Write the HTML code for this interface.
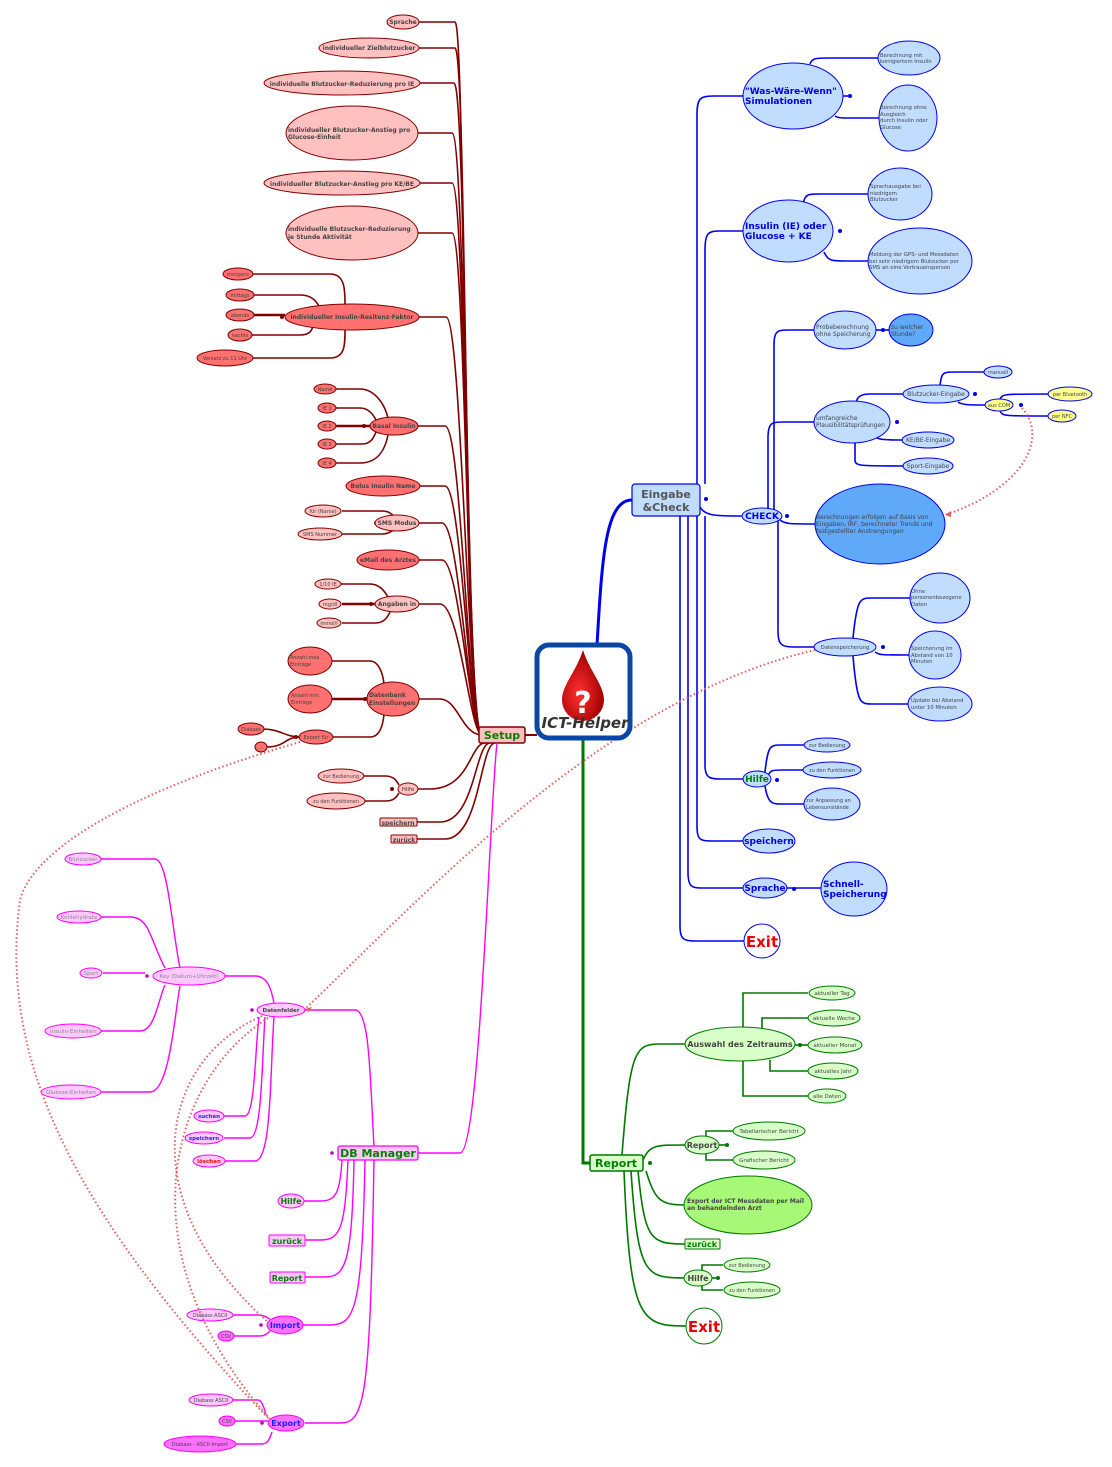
<!DOCTYPE html>
<html><head><meta charset="utf-8"><style>
html,body{margin:0;padding:0;background:#fff;}
svg{display:block;}
text{font-family:"DejaVu Sans","Liberation Sans",sans-serif;fill:#444;}
.b{font-weight:bold;}
</style></head><body>
<svg width="1112" height="1467" viewBox="0 0 1112 1467" xmlns="http://www.w3.org/2000/svg">
<!-- ================= SETUP (dark red) ================= -->
<g fill="none" stroke="#800000" stroke-width="1.6">
<path d="M419,22 H455 C466,22 462,735 482,735"/>
<path d="M419,48 H455 C467,48 464,735 482,735"/>
<path d="M420,83 H454 C467,83 465,735 482,735"/>
<path d="M418,133 H452 C466,133 466,735 482,735"/>
<path d="M420,183 H452 C466,183 466,735 482,735"/>
<path d="M418,233 H452 C466,233 467,735 482,735"/>
<path d="M419,317 H446 C462,317 468,735 482,735"/>
<path d="M418,426 H445 C462,426 468,735 482,735"/>
<path d="M420,486 H445 C462,486 469,735 482,735"/>
<path d="M419,523 H442 C460,523 469,735 482,735"/>
<path d="M419,560 H442 C460,560 470,735 482,735"/>
<path d="M419,604 H440 C460,604 470,735 482,735"/>
<path d="M419,699 H440 C458,699 462,735 482,735"/>
<path d="M418,789 H430 C470,789 470,743 485,743"/>
<path d="M417,822 H440 C475,822 475,743 490,743"/>
<path d="M417,839 H445 C480,839 480,743 495,743"/>
<!-- sub children -->
<path d="M252,274 H330 C345,274 345,290 345,304"/>
<path d="M254,295 H300 C315,295 318,305 320,308"/>
<path d="M254,315 H285" stroke-width="2.5"/>
<path d="M252,335 H300 C312,335 312,328 313,326"/>
<path d="M253,358 H330 C345,358 345,345 345,330"/>
<path d="M336,389 H360 C375,389 385,405 388,418"/>
<path d="M336,408 H360 C370,408 375,418 376,420"/>
<path d="M336,426 H370" stroke-width="2.5"/>
<path d="M336,444 H362 C372,444 374,436 376,432"/>
<path d="M336,463 H360 C378,463 385,450 388,435"/>
<path d="M342,511 H382 C390,511 392,515 394,516"/>
<path d="M342,534 H382 C390,534 392,530 394,530"/>
<path d="M341,584 H370 C380,584 385,592 388,597"/>
<path d="M342,604 H376" stroke-width="2.5"/>
<path d="M342,623 H375 C385,623 388,616 390,612"/>
<path d="M332,661 H370 C378,661 383,672 384,685"/>
<path d="M332,699 H368" stroke-width="2.5"/>
<path d="M333,737 H370 C380,737 383,725 384,714"/>
<path d="M263,729 C280,729 285,737 300,737"/>
<path d="M267,747 C285,747 285,737 300,737"/>
<path d="M364,776 H385 C395,776 397,782 399,785"/>
<path d="M365,801 H385 C395,801 397,796 399,793"/>
<path d="M525,735 H537" stroke-width="2"/>
</g>
<g fill="#800000">
<circle cx="282" cy="317" r="2"/><circle cx="364" cy="426" r="2"/><circle cx="376" cy="523" r="2"/>
<circle cx="371" cy="604" r="2"/><circle cx="365" cy="699" r="2"/><circle cx="296" cy="737" r="2"/><circle cx="392" cy="789" r="2"/>
</g>
<g stroke="#800000" stroke-width="1">
<ellipse cx="403" cy="22" rx="16" ry="7" fill="#ffc0c0"/>
<ellipse cx="369" cy="48" rx="50" ry="10" fill="#ffc0c0"/>
<ellipse cx="342" cy="83" rx="78" ry="12" fill="#ffc0c0"/>
<ellipse cx="352" cy="133" rx="66" ry="27" fill="#ffc0c0"/>
<ellipse cx="342" cy="183" rx="78" ry="12" fill="#ffc0c0"/>
<ellipse cx="352" cy="233" rx="66" ry="27" fill="#ffc0c0"/>
<ellipse cx="352" cy="317" rx="67" ry="13" fill="#ff7070"/>
<ellipse cx="238" cy="274" rx="15" ry="6" fill="#ff7070"/>
<ellipse cx="240" cy="295" rx="14" ry="6" fill="#ff7070"/>
<ellipse cx="240" cy="315" rx="14" ry="6" fill="#ff7070"/>
<ellipse cx="240" cy="335" rx="12" ry="6" fill="#ff7070"/>
<ellipse cx="225" cy="358" rx="28" ry="8" fill="#ff7070"/>
<ellipse cx="394" cy="426" rx="24" ry="9" fill="#ff7070"/>
<ellipse cx="325" cy="389" rx="11" ry="5" fill="#ff7070"/>
<ellipse cx="327" cy="408" rx="9" ry="5" fill="#ff7070"/>
<ellipse cx="327" cy="426" rx="9" ry="5" fill="#ff7070"/>
<ellipse cx="327" cy="444" rx="9" ry="5" fill="#ff7070"/>
<ellipse cx="327" cy="463" rx="9" ry="5" fill="#ff7070"/>
<ellipse cx="383" cy="486" rx="37" ry="10" fill="#ff7070"/>
<ellipse cx="397" cy="523" rx="22" ry="8" fill="#ffc0c0"/>
<ellipse cx="323" cy="511" rx="18" ry="6" fill="#ffc0c0"/>
<ellipse cx="320" cy="534" rx="22" ry="6" fill="#ffc0c0"/>
<ellipse cx="388" cy="560" rx="31" ry="10" fill="#ff7070"/>
<ellipse cx="397" cy="604" rx="22" ry="8" fill="#ffc0c0"/>
<ellipse cx="328" cy="584" rx="13" ry="5" fill="#ffc0c0"/>
<ellipse cx="330" cy="604" rx="11" ry="5" fill="#ffc0c0"/>
<ellipse cx="329" cy="623" rx="12" ry="5" fill="#ffc0c0"/>
<ellipse cx="393" cy="699" rx="26" ry="17" fill="#ff7070"/>
<ellipse cx="310" cy="661" rx="22" ry="14" fill="#ff7070"/>
<ellipse cx="310" cy="699" rx="22" ry="14" fill="#ff7070"/>
<ellipse cx="316" cy="737" rx="17" ry="7" fill="#ff7070"/>
<ellipse cx="251" cy="729" rx="13" ry="6" fill="#ff7070"/>
<ellipse cx="261" cy="747" rx="6" ry="5" fill="#ff7070"/>
<ellipse cx="408" cy="789" rx="10" ry="6" fill="#ffc0c0"/>
<ellipse cx="341" cy="776" rx="23" ry="7" fill="#ffc0c0"/>
<ellipse cx="336" cy="801" rx="29" ry="8" fill="#ffc0c0"/>
<rect x="380" y="818" width="37" height="8" rx="1" fill="#ffc0c0"/>
<rect x="391" y="835" width="26" height="8" rx="1" fill="#ffc0c0"/>
<rect x="479" y="727" width="46" height="16" rx="2" fill="#ffc0c0" stroke-width="1.5"/>
</g>
<g font-size="6">
<text x="403" y="24" text-anchor="middle" class="b">Sprache</text>
<text x="369" y="50" text-anchor="middle" class="b">individueller Zielblutzucker</text>
<text x="342" y="86" text-anchor="middle" class="b">individuelle Blutzucker-Reduzierung pro IE</text>
<text x="288" y="132" class="b">individueller Blutzucker-Anstieg pro</text>
<text x="288" y="139" class="b">Glucose-Einheit</text>
<text x="342" y="186" text-anchor="middle" class="b">individueller Blutzucker-Anstieg pro KE/BE</text>
<text x="288" y="231" class="b">individuelle Blutzucker-Reduzierung</text>
<text x="288" y="239" class="b">je Stunde Aktivität</text>
<text x="352" y="319" text-anchor="middle" class="b">individueller Insulin-Resitenz-Faktor</text>
<text x="238" y="276" text-anchor="middle" font-size="5">morgens</text>
<text x="240" y="297" text-anchor="middle" font-size="5">mittags</text>
<text x="240" y="317" text-anchor="middle" font-size="5">abends</text>
<text x="240" y="337" text-anchor="middle" font-size="5">nachts</text>
<text x="225" y="360" text-anchor="middle" font-size="5">Versatz zu 11 Uhr</text>
<text x="394" y="428" text-anchor="middle" class="b">Basal Insulin</text>
<text x="325" y="391" text-anchor="middle" font-size="5">Name</text>
<text x="327" y="410" text-anchor="middle" font-size="5">IE 1</text>
<text x="327" y="428" text-anchor="middle" font-size="5">IE 2</text>
<text x="327" y="446" text-anchor="middle" font-size="5">IE 3</text>
<text x="327" y="465" text-anchor="middle" font-size="5">IE 4</text>
<text x="383" y="488" text-anchor="middle" class="b">Bolus Insulin Name</text>
<text x="397" y="525" text-anchor="middle" class="b">SMS Modus</text>
<text x="323" y="513" text-anchor="middle" font-size="5">für (Name)</text>
<text x="320" y="536" text-anchor="middle" font-size="5">SMS Nummer</text>
<text x="388" y="562" text-anchor="middle" class="b">eMail des Arztes</text>
<text x="397" y="606" text-anchor="middle" class="b">Angaben in</text>
<text x="328" y="586" text-anchor="middle" font-size="5">1/10 IE</text>
<text x="330" y="606" text-anchor="middle" font-size="5">mg/dl</text>
<text x="329" y="625" text-anchor="middle" font-size="5">mmol/l</text>
<text x="369" y="697" class="b">Datenbank</text>
<text x="369" y="705" class="b">Einstellungen</text>
<text x="290" y="659" font-size="5">Anzahl max.</text>
<text x="290" y="666" font-size="5">Einträge</text>
<text x="291" y="697" font-size="5">Anzahl min.</text>
<text x="291" y="704" font-size="5">Einträge</text>
<text x="316" y="739" text-anchor="middle" font-size="5">Export für</text>
<text x="251" y="731" text-anchor="middle" font-size="5">Diabass</text>
<text x="261" y="749" text-anchor="middle" font-size="5">...</text>
<text x="408" y="791" text-anchor="middle" font-size="5.5">Hilfe</text>
<text x="341" y="778" text-anchor="middle" font-size="5">zur Bedienung</text>
<text x="336" y="803" text-anchor="middle" font-size="5">zu den Funktionen</text>
<text x="398" y="825" text-anchor="middle" class="b">speichern</text>
<text x="404" y="842" text-anchor="middle" class="b">zurück</text>
<text x="502" y="739" text-anchor="middle" font-size="11" class="b" style="fill:#008000">Setup</text>
</g>

<!-- ================= BLUE (Eingabe & Check) ================= -->
<g fill="none" stroke="#0000f0" stroke-width="1.6">
<path d="M597,645 C602,560 605,500 632,500" stroke-width="3"/>
<path d="M697,484 V115 C697,98 700,96 715,96 H743"/>
<path d="M705,484 V250 C705,233 708,231 720,231 H743"/>
<path d="M700,507 C705,516 715,516 743,516"/>
<path d="M705,516 V765 C705,779 710,779 725,779 H743"/>
<path d="M697,516 V825 C697,841 700,841 715,841 H743"/>
<path d="M688,516 V872 C688,888 692,888 705,888 H743"/>
<path d="M680,516 V925 C680,941 684,941 700,941 H744"/>
<!-- Was children -->
<path d="M810,64 C812,58 816,58 830,58 H878"/>
<path d="M835,116 C838,118 842,118 850,118 H879"/>
<path d="M803,204 C805,194 808,194 820,194 H868"/>
<path d="M824,252 C828,261 832,261 845,261 H868"/>
<path d="M843,96 H850"/>
<!-- CHECK children -->
<path d="M774,516 V345 C774,330 778,330 790,330 H814"/>
<path d="M768,516 V438 C768,422 772,422 785,422 H814"/>
<path d="M780,520 C785,524 790,524 815,524"/>
<path d="M778,516 V630 C778,647 782,647 800,647 H814"/>
<path d="M876,330 H889"/>
<path d="M855,412 C856,400 856,394 870,394 H903"/>
<path d="M870,431 C875,440 880,440 902,440"/>
<path d="M855,440 V460 C855,466 860,466 903,466"/>
<path d="M940,385 C942,372 942,372 958,372 H984"/>
<path d="M958,402 C962,405 970,405 985,405"/>
<path d="M1000,399 C1003,394 1003,394 1048,394"/>
<path d="M1000,411 C1003,416 1003,416 1048,416"/>
<!-- Datenspeicherung children -->
<path d="M853,638 C857,598 860,598 872,598 H910"/>
<path d="M875,652 C880,655 880,655 909,655"/>
<path d="M853,656 C857,704 860,704 872,704 H908"/>
<!-- Hilfe -->
<path d="M765,772 C768,745 770,745 782,745 H804"/>
<path d="M768,776 C770,770 773,770 782,770 H803"/>
<path d="M765,786 C768,804 772,804 782,804 H804"/>
<path d="M787,888 H821"/>
</g>
<g fill="#0000f0">
<circle cx="850" cy="96" r="2"/><circle cx="840" cy="231" r="2"/><circle cx="787" cy="516" r="2"/>
<circle cx="883" cy="330" r="2"/><circle cx="897" cy="422" r="2"/><circle cx="975" cy="394" r="2"/>
<circle cx="1021" cy="405" r="2"/><circle cx="883" cy="647" r="2"/><circle cx="777" cy="780" r="2"/>
<circle cx="794" cy="889" r="2"/><circle cx="706" cy="499" r="2"/>
</g>
<g stroke="#0000f0" stroke-width="1">
<ellipse cx="793" cy="96" rx="50" ry="33" fill="#c0dcff"/>
<ellipse cx="788" cy="231" rx="45" ry="31" fill="#c0dcff"/>
<ellipse cx="909" cy="58" rx="31" ry="17" fill="#c0dcff"/>
<ellipse cx="908" cy="118" rx="29" ry="33" fill="#c0dcff"/>
<ellipse cx="900" cy="194" rx="32" ry="26" fill="#c0dcff"/>
<ellipse cx="920" cy="261" rx="52" ry="33" fill="#c0dcff"/>
<ellipse cx="762" cy="516" rx="20" ry="8" fill="#c0dcff"/>
<ellipse cx="845" cy="330" rx="31" ry="19" fill="#c0dcff"/>
<ellipse cx="911" cy="330" rx="22" ry="16" fill="#60a8f8"/>
<ellipse cx="852" cy="422" rx="38" ry="21" fill="#c0dcff"/>
<ellipse cx="936" cy="394" rx="33" ry="9" fill="#c0dcff"/>
<ellipse cx="998" cy="372" rx="14" ry="6" fill="#c0dcff"/>
<ellipse cx="999" cy="405" rx="14" ry="6" fill="#ffff90"/>
<ellipse cx="1070" cy="394" rx="22" ry="7" fill="#ffff90"/>
<ellipse cx="1062" cy="416" rx="14" ry="6" fill="#ffff90"/>
<ellipse cx="928" cy="440" rx="26" ry="8" fill="#c0dcff"/>
<ellipse cx="928" cy="466" rx="25" ry="8" fill="#c0dcff"/>
<ellipse cx="880" cy="524" rx="65" ry="40" fill="#60a8f8"/>
<ellipse cx="845" cy="647" rx="31" ry="9" fill="#c0dcff"/>
<ellipse cx="940" cy="598" rx="30" ry="25" fill="#c0dcff"/>
<ellipse cx="935" cy="655" rx="26" ry="24" fill="#c0dcff"/>
<ellipse cx="940" cy="704" rx="32" ry="17" fill="#c0dcff"/>
<ellipse cx="757" cy="779" rx="14" ry="8" fill="#c0dcff"/>
<ellipse cx="827" cy="745" rx="23" ry="7" fill="#c0dcff"/>
<ellipse cx="832" cy="770" rx="29" ry="8" fill="#c0dcff"/>
<ellipse cx="832" cy="804" rx="28" ry="16" fill="#c0dcff"/>
<ellipse cx="769" cy="841" rx="26" ry="12" fill="#c0dcff"/>
<ellipse cx="765" cy="888" rx="22" ry="10" fill="#c0dcff"/>
<ellipse cx="854" cy="889" rx="33" ry="27" fill="#c0dcff"/>
<ellipse cx="762" cy="941" rx="18" ry="17" fill="#fff"/>
<rect x="632" y="484" width="68" height="32" rx="3" fill="#c0dcff" stroke-width="1.2"/>
</g>
<g font-size="5.3">
<text x="666" y="498" text-anchor="middle" font-size="11" class="b" style="fill:#555">Eingabe</text>
<text x="666" y="511" text-anchor="middle" font-size="11" class="b" style="fill:#555">&amp;Check</text>
<g class="b" font-size="9" style="fill:#0000e0">
<text x="745" y="94" style="fill:#0000e0">"Was-Wäre-Wenn"</text>
<text x="745" y="104" style="fill:#0000e0">Simulationen</text>
<text x="745" y="229" style="fill:#0000e0">Insulin (IE) oder</text>
<text x="745" y="239" style="fill:#0000e0">Glucose + KE</text>
<text x="762" y="519" text-anchor="middle" style="fill:#0000e0">CHECK</text>
<text x="769" y="844" text-anchor="middle" style="fill:#0000e0">speichern</text>
<text x="765" y="891" text-anchor="middle" style="fill:#0000e0">Sprache</text>
<text x="823" y="887" style="fill:#0000e0">Schnell-</text>
<text x="823" y="897" style="fill:#0000e0">Speicherung</text>
<text x="757" y="782" text-anchor="middle" style="fill:#008000">Hilfe</text>
<text x="762" y="947" text-anchor="middle" font-size="15" style="fill:#f00000">Exit</text>
</g>
<text x="880" y="57">Berechnung mit</text>
<text x="880" y="63">korrigiertem Insulin</text>
<text x="880" y="109">Berechnung ohne</text>
<text x="880" y="116">Ausgleich</text>
<text x="880" y="122">durch Insulin oder</text>
<text x="880" y="129">Glucose</text>
<text x="870" y="188"> Sprachausgabe bei</text>
<text x="870" y="195">niedrigem</text>
<text x="870" y="201">Blutzucker</text>
<text x="869" y="256">Meldung der GPS- und Messdaten</text>
<text x="869" y="263">bei sehr niedrigem Blutzucker per</text>
<text x="869" y="269">SMS an eine Vertrauensperson</text>
<text x="816" y="329" font-size="6">Probeberechnung</text>
<text x="816" y="336" font-size="6">ohne Speicherung</text>
<text x="891" y="329" font-size="6">zu welcher</text>
<text x="891" y="336" font-size="6">Stunde?</text>
<text x="816" y="420" font-size="6">umfangreiche</text>
<text x="816" y="427" font-size="6">Plausibilitätsprüfungen</text>
<text x="936" y="396" text-anchor="middle" font-size="6">Blutzucker-Eingabe</text>
<text x="998" y="374" text-anchor="middle" font-size="5">manuell</text>
<text x="999" y="407" text-anchor="middle" font-size="5">aus COM</text>
<text x="1070" y="396" text-anchor="middle" font-size="5">per Bluetooth</text>
<text x="1062" y="418" text-anchor="middle" font-size="5">per NFC</text>
<text x="928" y="442" text-anchor="middle" font-size="6">KE/BE-Eingabe</text>
<text x="928" y="468" text-anchor="middle" font-size="6">Sport-Eingabe</text>
<text x="816" y="519" font-size="6">Berechnungen erfolgen auf Basis von</text>
<text x="816" y="526" font-size="6">Eingaben, IRF, berechneter Trends und</text>
<text x="816" y="533" font-size="6">festgestellter Anstrengungen</text>
<text x="845" y="649" text-anchor="middle">Datenspeicherung</text>
<text x="911" y="593">Ohne</text>
<text x="911" y="599">personenbezogene</text>
<text x="911" y="606">Daten</text>
<text x="911" y="650">Speicherung im</text>
<text x="911" y="657">Abstand von 10</text>
<text x="911" y="663">Minuten</text>
<text x="911" y="702">Update bei Abstand</text>
<text x="911" y="709">unter 10 Minuten</text>
<text x="827" y="747" text-anchor="middle" font-size="5">zur Bedienung</text>
<text x="832" y="772" text-anchor="middle" font-size="5">zu den Funktionen</text>
<text x="806" y="802" font-size="5">zur Anpassung an</text>
<text x="806" y="809" font-size="5">Lebensumstände</text>
</g>

<!-- ================= GREEN (Report) ================= -->
<g fill="none" stroke="#007800" stroke-width="1.6">
<path d="M583,738 V1163 H590" stroke-width="3"/>
<path d="M622,1155 C630,1050 635,1044 660,1044 H686"/>
<path d="M743,1027 V993 H808"/>
<path d="M762,1028 V1018 H808"/>
<path d="M795,1045 H808"/>
<path d="M770,1060 V1071 H808"/>
<path d="M743,1061 V1096 H808"/>
<path d="M643,1160 C650,1145 655,1145 685,1145"/>
<path d="M706,1136 V1131 H733"/>
<path d="M706,1154 V1160 H733"/>
<path d="M646,1171 C655,1200 660,1205 685,1205"/>
<path d="M638,1171 C645,1240 650,1244 685,1244"/>
<path d="M631,1171 C638,1275 645,1278 684,1278"/>
<path d="M702,1272 V1265 H723"/>
<path d="M702,1285 V1290 H723"/>
<path d="M624,1171 C630,1320 640,1326 686,1326"/>
<path d="M719,1145 H726"/><path d="M712,1278 H718"/>
</g>
<g fill="#007800"><circle cx="650" cy="1163" r="2"/><circle cx="727" cy="1145" r="2"/><circle cx="718" cy="1278" r="2"/><circle cx="800" cy="1045" r="2"/></g>
<g stroke="#007800" stroke-width="1">
<ellipse cx="740" cy="1044" rx="55" ry="17" fill="#d8ffc8"/>
<ellipse cx="832" cy="993" rx="23" ry="7" fill="#d8ffc8"/>
<ellipse cx="834" cy="1018" rx="26" ry="8" fill="#d8ffc8"/>
<ellipse cx="835" cy="1045" rx="27" ry="8" fill="#d8ffc8"/>
<ellipse cx="833" cy="1071" rx="25" ry="8" fill="#d8ffc8"/>
<ellipse cx="827" cy="1096" rx="19" ry="7" fill="#d8ffc8"/>
<ellipse cx="702" cy="1145" rx="17" ry="9" fill="#d8ffc8"/>
<ellipse cx="769" cy="1131" rx="36" ry="9" fill="#d8ffc8"/>
<ellipse cx="764" cy="1160" rx="31" ry="9" fill="#d8ffc8"/>
<ellipse cx="748" cy="1205" rx="64" ry="29" fill="#a8f878"/>
<rect x="685" y="1239" width="35" height="10" rx="1" fill="#d8ffc8"/>
<ellipse cx="698" cy="1278" rx="14" ry="8" fill="#d8ffc8"/>
<ellipse cx="747" cy="1265" rx="23" ry="7" fill="#d8ffc8"/>
<ellipse cx="752" cy="1290" rx="28" ry="8" fill="#d8ffc8"/>
<ellipse cx="704" cy="1326" rx="18" ry="18" fill="#fff"/>
<rect x="590" y="1155" width="53" height="16" rx="2" fill="#d8ffc8" stroke-width="1.5"/>
</g>
<g font-size="5.5">
<text x="616" y="1167" text-anchor="middle" font-size="11" class="b" style="fill:#008000">Report</text>
<text x="740" y="1047" text-anchor="middle" font-size="8" class="b">Auswahl des Zeitraums</text>
<text x="832" y="995" text-anchor="middle">aktueller Tag</text>
<text x="834" y="1020" text-anchor="middle">aktuelle Woche</text>
<text x="835" y="1047" text-anchor="middle">aktueller Monat</text>
<text x="833" y="1073" text-anchor="middle">aktuelles Jahr</text>
<text x="827" y="1098" text-anchor="middle">alle Daten</text>
<text x="702" y="1148" text-anchor="middle" font-size="8" class="b">Report</text>
<text x="769" y="1133" text-anchor="middle">Tabellarischer Bericht</text>
<text x="764" y="1162" text-anchor="middle">Grafischer Bericht</text>
<text x="687" y="1203" font-size="6" class="b">Export der ICT Messdaten per Mail</text>
<text x="687" y="1210" font-size="6" class="b">an behandelnden Arzt</text>
<text x="702" y="1247" text-anchor="middle" font-size="8" class="b" style="fill:#008000">zurück</text>
<text x="698" y="1281" text-anchor="middle" font-size="8" class="b">Hilfe</text>
<text x="747" y="1267" text-anchor="middle" font-size="5">zur Bedienung</text>
<text x="752" y="1292" text-anchor="middle" font-size="5">zu den Funktionen</text>
<text x="704" y="1332" text-anchor="middle" font-size="15" class="b" style="fill:#f00000">Exit</text>
</g>

<!-- ================= MAGENTA (DB Manager) ================= -->
<g fill="none" stroke="#ff00ff" stroke-width="1.4">
<path d="M497,743 C490,800 480,1153 460,1153 H418"/>
<path d="M305,1010 H355 C370,1010 370,1080 374,1146"/>
<path d="M225,976 H255 C270,976 272,995 274,1003"/>
<path d="M101,859 H155 C168,859 172,930 180,968"/>
<path d="M101,917 H130 C150,917 150,940 165,968"/>
<path d="M103,973 H145" />
<path d="M101,1031 H140 C155,1031 158,1000 165,985"/>
<path d="M101,1092 H150 C170,1092 175,1010 180,986"/>
<path d="M259,1017 C255,1050 255,1116 245,1116 H224"/>
<path d="M265,1017 C262,1060 262,1138 250,1138 H224"/>
<path d="M274,1017 C270,1070 272,1161 255,1161 H224"/>
<path d="M342,1160 C340,1195 335,1201 320,1201 H304"/>
<path d="M348,1160 C345,1230 340,1240 320,1240 H305"/>
<path d="M354,1160 C352,1265 345,1277 325,1277 H305"/>
<path d="M365,1160 C362,1310 355,1325 330,1325 H303"/>
<path d="M374,1160 C370,1400 365,1423 340,1423 H305"/>
<path d="M233,1315 H258 C265,1315 268,1318 270,1319"/>
<path d="M233,1336 H260 C265,1336 268,1333 270,1331"/>
<path d="M232,1400 H258 C262,1400 265,1410 266,1415"/>
<path d="M234,1421 H268"/>
<path d="M236,1444 H262 C268,1444 270,1438 272,1432"/>
</g>
<g fill="#c000c0"><circle cx="252" cy="1010" r="1.8"/><circle cx="147" cy="976" r="1.8"/><circle cx="332" cy="1153" r="1.8"/><circle cx="261" cy="1325" r="1.8"/><circle cx="262" cy="1423" r="1.8"/></g>
<g stroke="#ff00ff" stroke-width="1">
<ellipse cx="281" cy="1010" rx="24" ry="7" fill="#ffc8ff"/>
<ellipse cx="189" cy="976" rx="36" ry="9" fill="#ffc8ff"/>
<ellipse cx="83" cy="859" rx="18" ry="6" fill="#ffc8ff"/>
<ellipse cx="79" cy="917" rx="22" ry="6" fill="#ffc8ff"/>
<ellipse cx="91" cy="973" rx="11" ry="5" fill="#ffc8ff"/>
<ellipse cx="73" cy="1031" rx="28" ry="7" fill="#ffc8ff"/>
<ellipse cx="71" cy="1092" rx="30" ry="7" fill="#ffc8ff"/>
<ellipse cx="209" cy="1116" rx="15" ry="6" fill="#ffc8ff"/>
<ellipse cx="204" cy="1138" rx="19" ry="6" fill="#ffc8ff"/>
<ellipse cx="209" cy="1161" rx="16" ry="6" fill="#ffc8ff"/>
<ellipse cx="291" cy="1201" rx="13" ry="7" fill="#ffc8ff"/>
<rect x="269" y="1235" width="36" height="11" rx="1" fill="#ffc8ff"/>
<rect x="270" y="1272" width="35" height="11" rx="1" fill="#ffc8ff"/>
<ellipse cx="285" cy="1325" rx="18" ry="9" fill="#ff70ff"/>
<ellipse cx="210" cy="1315" rx="23" ry="6" fill="#ffc8ff"/>
<ellipse cx="226" cy="1336" rx="8" ry="5" fill="#ff70ff"/>
<ellipse cx="286" cy="1423" rx="18" ry="8" fill="#ff70ff"/>
<ellipse cx="211" cy="1400" rx="22" ry="6" fill="#ffc8ff"/>
<ellipse cx="227" cy="1421" rx="8" ry="5" fill="#ff70ff"/>
<ellipse cx="200" cy="1444" rx="36" ry="8" fill="#ff70ff"/>
<rect x="338" y="1146" width="80" height="14" rx="2" fill="#ffc8ff" stroke-width="1.3"/>
</g>
<g font-size="5.5">
<text x="378" y="1157" text-anchor="middle" font-size="11" class="b" style="fill:#008000">DB Manager</text>
<text x="281" y="1012" text-anchor="middle" class="b">Datenfelder</text>
<text x="189" y="978" text-anchor="middle" style="fill:#888">Key (Datum+Uhrzeit)</text>
<text x="83" y="861" text-anchor="middle" style="fill:#888">Blutzucker</text>
<text x="79" y="919" text-anchor="middle" style="fill:#888">Kohlehydrate</text>
<text x="91" y="975" text-anchor="middle" style="fill:#888">Sport</text>
<text x="73" y="1033" text-anchor="middle" style="fill:#888">Insulin-Einheiten</text>
<text x="71" y="1094" text-anchor="middle" style="fill:#888">Glukose-Einheiten</text>
<text x="209" y="1118" text-anchor="middle" class="b" style="fill:#2020ff">suchen</text>
<text x="204" y="1140" text-anchor="middle" class="b" style="fill:#2020ff">speichern</text>
<text x="209" y="1163" text-anchor="middle" class="b" style="fill:#ff0000">löschen</text>
<text x="291" y="1204" text-anchor="middle" font-size="8" class="b" style="fill:#008000">Hilfe</text>
<text x="287" y="1244" text-anchor="middle" font-size="8" class="b" style="fill:#008000">zurück</text>
<text x="287" y="1281" text-anchor="middle" font-size="8" class="b" style="fill:#008000">Report</text>
<text x="285" y="1328" text-anchor="middle" font-size="8" class="b" style="fill:#2020ff">Import</text>
<text x="210" y="1317" text-anchor="middle" font-size="5">Diabass ASCII</text>
<text x="226" y="1338" text-anchor="middle" font-size="5">CSV</text>
<text x="286" y="1426" text-anchor="middle" font-size="8" class="b" style="fill:#2020ff">Export</text>
<text x="211" y="1402" text-anchor="middle" font-size="5">Diabass ASCII</text>
<text x="227" y="1423" text-anchor="middle" font-size="5">CSV</text>
<text x="200" y="1446" text-anchor="middle" font-size="5">Diabass - ASCII-Import</text>
</g>

<!-- ================= dotted red links ================= -->
<g fill="none" stroke="#e06060" stroke-width="2" stroke-dasharray="1.5 2.5">
<path d="M300,742 C100,800 30,860 20,900 C0,1050 60,1200 270,1420"/>
<path d="M815,650 C600,700 420,900 305,1009"/>
<path d="M1022,408 C1050,440 1020,490 945,515"/>
<path d="M262,1016 C160,1060 130,1200 268,1322"/>
<path d="M268,1018 C170,1080 120,1250 270,1419"/>
</g>
<g fill="#e06060">
<path d="M305,1009 l7,-2 l-3,5z"/><path d="M945,515 l6,-4 l0,6z"/>
</g>

<!-- ================= CENTER ================= -->
<rect x="537" y="645" width="93" height="93" rx="12" fill="#fff" stroke="#0a46a6" stroke-width="5"/>
<defs><radialGradient id="dg" cx="0.4" cy="0.6" r="0.6"><stop offset="0" stop-color="#ff3030"/><stop offset="1" stop-color="#a00000"/></radialGradient></defs>
<path d="M583,650 C590,672 604,685 604,700 A21,21 0 0 1 562,700 C562,685 576,672 583,650Z" fill="url(#dg)"/>
<text x="583" y="713" text-anchor="middle" font-size="30" class="b" style="fill:#fff">?</text>
<text x="585" y="728" text-anchor="middle" font-size="15" font-style="italic" class="b" style="fill:#333">ICT-Helper</text>
</svg>
</body></html>
